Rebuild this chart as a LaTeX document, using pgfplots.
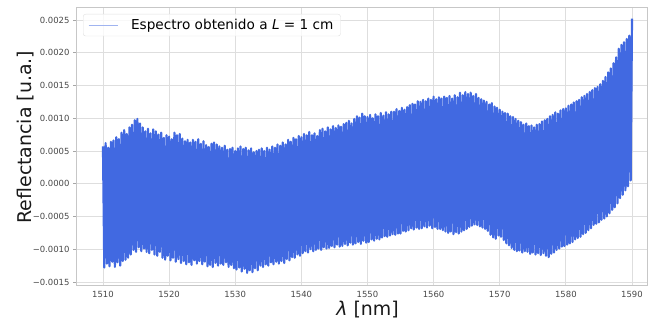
\documentclass[border=0pt]{standalone}
\usepackage{pgfplots}
\pgfplotsset{compat=1.18}
\usepackage{fontspec}
\setmainfont{DejaVu Sans}
\definecolor{royalblue}{RGB}{65,105,225}
\begin{document}
\begin{tikzpicture}
\path[use as bounding box] (-76bp,-37bp) rectangle (572bp,285bp);
\begin{axis}[
  at={(0,0)}, anchor=south west,
  scale only axis, width=571bp, height=278bp,
  xmin=1505.92, xmax=1592.27, ymin=-0.001546, ymax=0.002698,
  xtick={1510,1520,1530,1540,1550,1560,1570,1580,1590},
  ytick={-0.0015,-0.001,-0.0005,0,0.0005,0.001,0.0015,0.002,0.0025},
  yticklabels={−0.0015,−0.0010,−0.0005,0.0000,0.0005,0.0010,0.0015,0.0020,0.0025},
  scaled y ticks=false,
  /pgf/number format/assume math mode=true,
  /pgf/number format/1000 sep={},
  tick label style={font=\fontsize{8.5}{10}\selectfont, text=black!72},
  grid=major, major grid style={black!13, line width=0.8bp},
  axis line style={black!22, line width=0.8bp},
  tick style={black!35, line width=0.6bp}, major tick length=3bp, tick align=outside,
  xtick style={draw=none},
  xlabel={\textit{λ} [nm]},
  ylabel={Reflectancia [u.a.]},
  label style={font=\fontsize{19}{22}\selectfont, text=black!90},
  xlabel style={at={(axis description cs:0.5105,-0.1115)}, anchor=base},
  ylabel style={at={(axis description cs:-0.0771,0.532)}, anchor=base},
  legend style={at={(axis description cs:0,1)}, anchor=north west, xshift=7bp, yshift=-7bp,
    draw=black!12, rounded corners=2.5bp, fill=white, fill opacity=0.8, text opacity=1,
    font=\fontsize{13.7}{16}\selectfont, inner xsep=5bp, inner ysep=3bp,
    /tikz/every odd column/.append style={column sep=11bp}},
  legend image code/.code={\draw[royalblue!50, line width=0.9bp] (0bp,0bp) -- (29bp,0bp);},
  legend cell align=left,
]
\addplot[royalblue, line width=2.2bp, line join=round] coordinates {
(1510.0,0.00057)(1510.2,-0.00128)(1510.4,0.00062)(1510.6,-0.00122)(1510.8,0.00055)
(1511.0,-0.00126)(1511.2,0.00064)(1511.4,-0.00119)(1511.6,0.00066)(1511.8,-0.00127)
(1512.0,0.00071)(1512.2,-0.00120)(1512.4,0.00068)(1512.6,-0.00125)(1512.8,0.00078)
(1513.0,-0.00118)(1513.2,0.00082)(1513.4,-0.00116)(1513.6,0.00076)(1513.8,-0.00113)
(1514.0,0.00086)(1514.2,-0.00108)(1514.4,0.00090)(1514.6,-0.00101)(1514.8,0.00097)
(1515.0,-0.00104)(1515.2,0.00099)(1515.4,-0.00097)(1515.6,0.00092)(1515.8,-0.00103)
(1516.0,0.00086)(1516.2,-0.00099)(1516.4,0.00080)(1516.6,-0.00104)(1516.8,0.00084)
(1517.0,-0.00106)(1517.2,0.00077)(1517.4,-0.00101)(1517.6,0.00083)(1517.8,-0.00108)
(1518.0,0.00080)(1518.2,-0.00110)(1518.4,0.00075)(1518.6,-0.00104)(1518.8,0.00078)
(1519.0,-0.00113)(1519.2,0.00070)(1519.4,-0.00116)(1519.6,0.00074)(1519.8,-0.00110)
(1520.0,0.00072)(1520.2,-0.00117)(1520.4,0.00068)(1520.6,-0.00113)(1520.8,0.00078)
(1521.0,-0.00119)(1521.2,0.00074)(1521.4,-0.00115)(1521.6,0.00076)(1521.8,-0.00121)
(1522.0,0.00069)(1522.2,-0.00118)(1522.4,0.00065)(1522.6,-0.00123)(1522.8,0.00067)
(1523.0,-0.00120)(1523.2,0.00063)(1523.4,-0.00124)(1523.6,0.00067)(1523.8,-0.00117)
(1524.0,0.00064)(1524.2,-0.00122)(1524.4,0.00068)(1524.6,-0.00118)(1524.8,0.00061)
(1525.0,-0.00123)(1525.2,0.00065)(1525.4,-0.00119)(1525.6,0.00059)(1525.8,-0.00126)
(1526.0,0.00056)(1526.2,-0.00124)(1526.4,0.00061)(1526.6,-0.00127)(1526.8,0.00063)
(1527.0,-0.00121)(1527.2,0.00060)(1527.4,-0.00125)(1527.6,0.00057)(1527.8,-0.00122)
(1528.0,0.00055)(1528.2,-0.00124)(1528.4,0.00058)(1528.6,-0.00120)(1528.8,0.00052)
(1529.0,-0.00127)(1529.2,0.00053)(1529.4,-0.00124)(1529.6,0.00055)(1529.8,-0.00129)
(1530.0,0.00050)(1530.2,-0.00131)(1530.4,0.00054)(1530.6,-0.00128)(1530.8,0.00057)
(1531.0,-0.00134)(1531.2,0.00053)(1531.4,-0.00130)(1531.6,0.00055)(1531.8,-0.00136)
(1532.0,0.00051)(1532.2,-0.00132)(1532.4,0.00054)(1532.6,-0.00135)(1532.8,0.00048)
(1533.0,-0.00129)(1533.2,0.00050)(1533.4,-0.00132)(1533.6,0.00052)(1533.8,-0.00125)
(1534.0,0.00054)(1534.2,-0.00127)(1534.4,0.00050)(1534.6,-0.00123)(1534.8,0.00055)
(1535.0,-0.00125)(1535.2,0.00052)(1535.4,-0.00120)(1535.6,0.00057)(1535.8,-0.00123)
(1536.0,0.00055)(1536.2,-0.00119)(1536.4,0.00060)(1536.6,-0.00122)(1536.8,0.00058)
(1537.0,-0.00118)(1537.2,0.00063)(1537.4,-0.00121)(1537.6,0.00060)(1537.8,-0.00115)
(1538.0,0.00067)(1538.2,-0.00117)(1538.4,0.00064)(1538.6,-0.00112)(1538.8,0.00070)
(1539.0,-0.00113)(1539.2,0.00068)(1539.4,-0.00108)(1539.6,0.00073)(1539.8,-0.00110)
(1540.0,0.00071)(1540.2,-0.00106)(1540.4,0.00076)(1540.6,-0.00103)(1540.8,0.00074)
(1541.0,-0.00105)(1541.2,0.00079)(1541.4,-0.00100)(1541.6,0.00074)(1541.8,-0.00103)
(1542.0,0.00077)(1542.2,-0.00101)(1542.4,0.00073)(1542.6,-0.00099)(1542.8,0.00082)
(1543.0,-0.00101)(1543.2,0.00084)(1543.4,-0.00097)(1543.6,0.00080)(1543.8,-0.00099)
(1544.0,0.00086)(1544.2,-0.00098)(1544.4,0.00083)(1544.6,-0.00095)(1544.8,0.00088)
(1545.0,-0.00097)(1545.2,0.00085)(1545.4,-0.00093)(1545.6,0.00089)(1545.8,-0.00096)
(1546.0,0.00087)(1546.2,-0.00095)(1546.4,0.00091)(1546.6,-0.00092)(1546.8,0.00093)
(1547.0,-0.00094)(1547.2,0.00096)(1547.4,-0.00090)(1547.6,0.00092)(1547.8,-0.00093)
(1548.0,0.00099)(1548.2,-0.00091)(1548.4,0.00103)(1548.6,-0.00089)(1548.8,0.00101)
(1549.0,-0.00092)(1549.2,0.00107)(1549.4,-0.00087)(1549.6,0.00103)(1549.8,-0.00090)
(1550.0,0.00102)(1550.2,-0.00089)(1550.4,0.00105)(1550.6,-0.00085)(1550.8,0.00100)
(1551.0,-0.00087)(1551.2,0.00106)(1551.4,-0.00084)(1551.6,0.00103)(1551.8,-0.00085)
(1552.0,0.00108)(1552.2,-0.00082)(1552.4,0.00104)(1552.6,-0.00080)(1552.8,0.00109)
(1553.0,-0.00081)(1553.2,0.00106)(1553.4,-0.00079)(1553.6,0.00110)(1553.8,-0.00077)
(1554.0,0.00110)(1554.2,-0.00078)(1554.4,0.00114)(1554.6,-0.00076)(1554.8,0.00111)
(1555.0,-0.00076)(1555.2,0.00116)(1555.4,-0.00072)(1555.6,0.00113)(1555.8,-0.00073)
(1556.0,0.00117)(1556.2,-0.00071)(1556.4,0.00120)(1556.6,-0.00068)(1556.8,0.00122)
(1557.0,-0.00070)(1557.2,0.00121)(1557.4,-0.00067)(1557.6,0.00126)(1557.8,-0.00069)
(1558.0,0.00125)(1558.2,-0.00068)(1558.4,0.00128)(1558.6,-0.00065)(1558.8,0.00126)
(1559.0,-0.00067)(1559.2,0.00130)(1559.4,-0.00064)(1559.6,0.00128)(1559.8,-0.00068)
(1560.0,0.00133)(1560.2,-0.00066)(1560.4,0.00129)(1560.6,-0.00069)(1560.8,0.00132)
(1561.0,-0.00069)(1561.2,0.00130)(1561.4,-0.00071)(1561.6,0.00133)(1561.8,-0.00073)
(1562.0,0.00131)(1562.2,-0.00075)(1562.4,0.00134)(1562.6,-0.00073)(1562.8,0.00130)
(1563.0,-0.00077)(1563.2,0.00135)(1563.4,-0.00074)(1563.6,0.00132)(1563.8,-0.00076)
(1564.0,0.00139)(1564.2,-0.00073)(1564.4,0.00135)(1564.6,-0.00071)(1564.8,0.00140)
(1565.0,-0.00069)(1565.2,0.00137)(1565.4,-0.00066)(1565.6,0.00139)(1565.8,-0.00064)
(1566.0,0.00134)(1566.2,-0.00062)(1566.4,0.00137)(1566.6,-0.00063)(1566.8,0.00131)
(1567.0,-0.00065)(1567.2,0.00129)(1567.4,-0.00067)(1567.6,0.00127)(1567.8,-0.00069)
(1568.0,0.00125)(1568.2,-0.00072)(1568.4,0.00121)(1568.6,-0.00078)(1568.8,0.00123)
(1569.0,-0.00082)(1569.2,0.00118)(1569.4,-0.00084)(1569.6,0.00116)(1569.8,-0.00079)
(1570.0,0.00113)(1570.2,-0.00081)(1570.4,0.00110)(1570.6,-0.00086)(1570.8,0.00108)
(1571.0,-0.00091)(1571.2,0.00107)(1571.4,-0.00094)(1571.6,0.00103)(1571.8,-0.00098)
(1572.0,0.00102)(1572.2,-0.00101)(1572.4,0.00099)(1572.6,-0.00103)(1572.8,0.00096)
(1573.0,-0.00102)(1573.2,0.00094)(1573.4,-0.00105)(1573.6,0.00090)(1573.8,-0.00103)
(1574.0,0.00092)(1574.2,-0.00104)(1574.4,0.00088)(1574.6,-0.00107)(1574.8,0.00089)
(1575.0,-0.00105)(1575.2,0.00086)(1575.4,-0.00108)(1575.6,0.00090)(1575.8,-0.00106)
(1576.0,0.00091)(1576.2,-0.00109)(1576.4,0.00095)(1576.6,-0.00106)(1576.8,0.00097)
(1577.0,-0.00110)(1577.2,0.00099)(1577.4,-0.00112)(1577.6,0.00103)(1577.8,-0.00107)
(1578.0,0.00105)(1578.2,-0.00105)(1578.4,0.00109)(1578.6,-0.00101)(1578.8,0.00107)
(1579.0,-0.00099)(1579.2,0.00112)(1579.4,-0.00096)(1579.6,0.00114)(1579.8,-0.00095)
(1580.0,0.00115)(1580.2,-0.00093)(1580.4,0.00119)(1580.6,-0.00091)(1580.8,0.00121)
(1581.0,-0.00089)(1581.2,0.00124)(1581.4,-0.00085)(1581.6,0.00126)(1581.8,-0.00083)
(1582.0,0.00128)(1582.2,-0.00081)(1582.4,0.00132)(1582.6,-0.00077)(1582.8,0.00134)
(1583.0,-0.00075)(1583.2,0.00137)(1583.4,-0.00071)(1583.6,0.00140)(1583.8,-0.00068)
(1584.0,0.00143)(1584.2,-0.00063)(1584.4,0.00146)(1584.6,-0.00061)(1584.8,0.00148)
(1585.0,-0.00059)(1585.2,0.00152)(1585.4,-0.00055)(1585.6,0.00157)(1585.8,-0.00053)
(1586.0,0.00163)(1586.2,-0.00050)(1586.4,0.00170)(1586.6,-0.00045)(1586.8,0.00176)
(1587.0,-0.00040)(1587.2,0.00184)(1587.4,-0.00036)(1587.6,0.00193)(1587.8,-0.00030)
(1588.0,0.00206)(1588.2,-0.00022)(1588.4,0.00212)(1588.6,-0.00017)(1588.8,0.00216)
(1589.0,-0.00010)(1589.2,0.00221)(1589.4,-0.00004)(1589.6,0.00226)(1589.8,0.00005)
(1590.0,0.00252)
};
\addlegendentry{Espectro obtenido a \textit{L} = 1 cm\hspace{8bp}}
\end{axis}
\end{tikzpicture}
\end{document}
